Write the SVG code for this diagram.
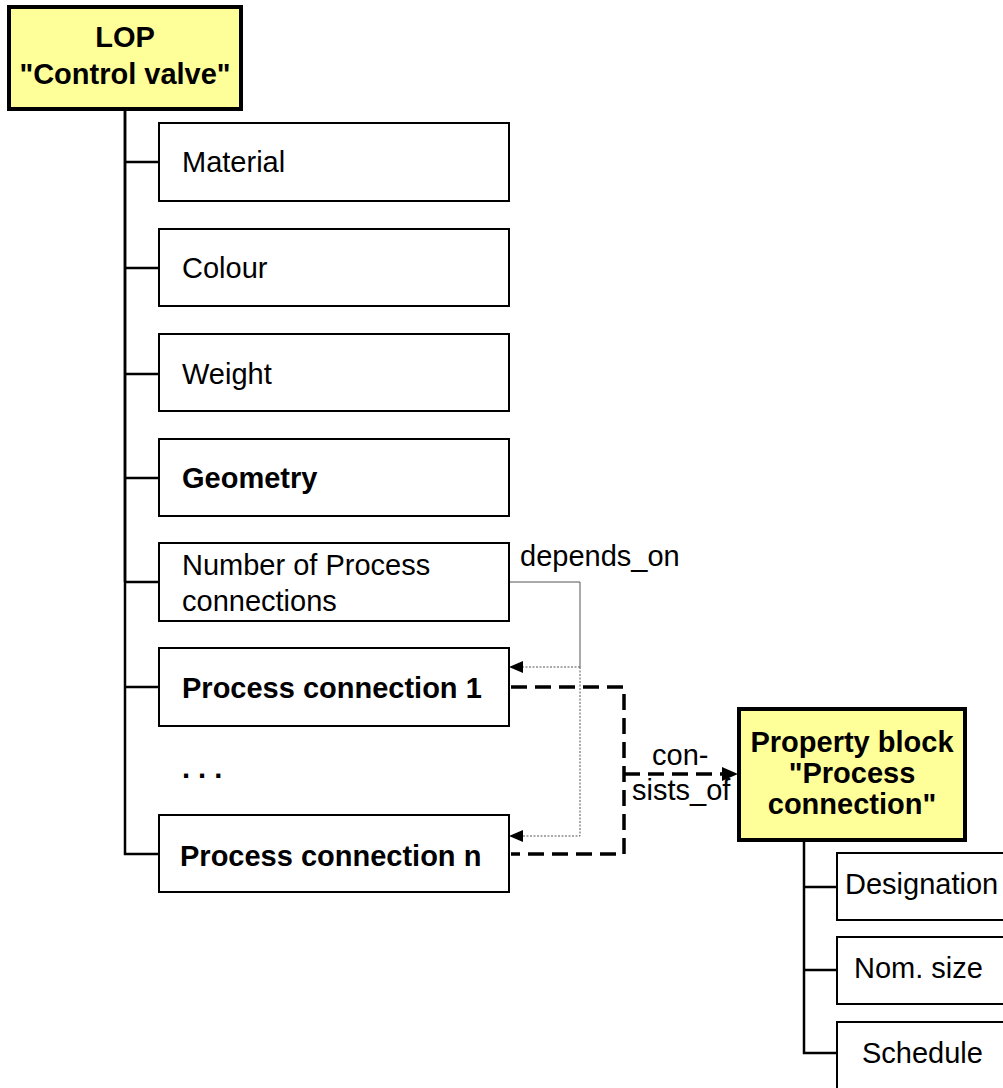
<svg xmlns="http://www.w3.org/2000/svg" width="1003" height="1088" viewBox="0 0 1003 1088">
<style>
  .t{font-family:"Liberation Sans",Arial,sans-serif;font-size:29px;fill:#000}
  .b{font-weight:bold}
  .box{fill:#fff;stroke:#000;stroke-width:2}
  .hdr{fill:#ffff99;stroke:#000;stroke-width:4}
  .tree{fill:none;stroke:#000;stroke-width:2.5}
  .dep{fill:none;stroke:#555;stroke-width:1}
  .depd{fill:none;stroke:#555;stroke-width:1;stroke-dasharray:2 1.5}
  .cons{fill:none;stroke:#000;stroke-width:3.5;stroke-dasharray:16 8}
</style>
<g id="connectors">
  <path class="tree" d="M125,109 V854 H159"/>
  <path class="tree" d="M125,109 V582" stroke-width="3.5"/>
  <path class="tree" d="M125,162 H159 M125,268 H159 M125,374 H159 M125,478 H159 M125,582 H159 M125,687 H159"/>
  <path class="tree" d="M804,840 V1053 H837 M804,887 H837 M804,970 H837"/>
  <path class="dep" d="M509,582 H580 V667"/>
  <path class="depd" d="M580,667 H523"/>
  <path d="M523,661 L509,667 L523,673 Z" fill="#000"/>
  <path class="depd" d="M580,667 V836 H523"/>
  <path d="M523,830 L509,836 L523,842 Z" fill="#000"/>
  <path class="cons" d="M511,687 H624 V854 H511"/>
  <path class="cons" d="M624,774 H724"/>
  <path d="M722,767 L738,774 L722,781 Z" fill="#000"/>
  <text class="t" x="520" y="566">depends_on</text>
  <text class="t" x="652" y="765">con-</text>
  <text class="t" x="632" y="800">sists_of</text>
</g>
<g id="lop">
  <rect class="hdr" x="9" y="7" width="232" height="102"/>
  <text class="t b" x="125" y="47" text-anchor="middle">LOP</text>
  <text class="t b" x="125" y="84" text-anchor="middle">"Control valve"</text>
</g>
<g id="material">
  <rect class="box" x="159" y="123" width="350" height="78"/>
  <text class="t" x="182" y="172">Material</text>
</g>
<g id="colour">
  <rect class="box" x="159" y="229" width="350" height="77"/>
  <text class="t" x="182" y="278">Colour</text>
</g>
<g id="weight">
  <rect class="box" x="159" y="334" width="350" height="77"/>
  <text class="t" x="182" y="384">Weight</text>
</g>
<g id="geometry">
  <rect class="box" x="159" y="439" width="350" height="77"/>
  <text class="t b" x="182" y="488">Geometry</text>
</g>
<g id="numpc">
  <rect class="box" x="159" y="543" width="350" height="78"/>
  <text class="t" x="182" y="575">Number of Process</text>
  <text class="t" x="182" y="611">connections</text>
</g>
<g id="pc1">
  <rect class="box" x="159" y="648" width="350" height="78"/>
  <text class="t b" x="182" y="698">Process connection 1</text>
</g>
<g id="dots">
  <text class="t b" x="182" y="778">. . .</text>
</g>
<g id="pcn">
  <rect class="box" x="159" y="815" width="350" height="77"/>
  <text class="t b" x="180" y="866">Process connection n</text>
</g>
<g id="propblock">
  <rect class="hdr" x="739" y="709" width="226" height="131"/>
  <text class="t b" x="852" y="752" text-anchor="middle">Property block</text>
  <text class="t b" x="852" y="783" text-anchor="middle">"Process</text>
  <text class="t b" x="852" y="814" text-anchor="middle">connection"</text>
</g>
<g id="designation">
  <rect class="box" x="837" y="853" width="180" height="67"/>
  <text class="t" x="845" y="894">Designation</text>
</g>
<g id="nomsize">
  <rect class="box" x="837" y="937" width="180" height="67"/>
  <text class="t" x="854" y="978">Nom. size</text>
</g>
<g id="schedule">
  <rect class="box" x="837" y="1022" width="180" height="80"/>
  <text class="t" x="862" y="1063">Schedule</text>
</g>
</svg>
